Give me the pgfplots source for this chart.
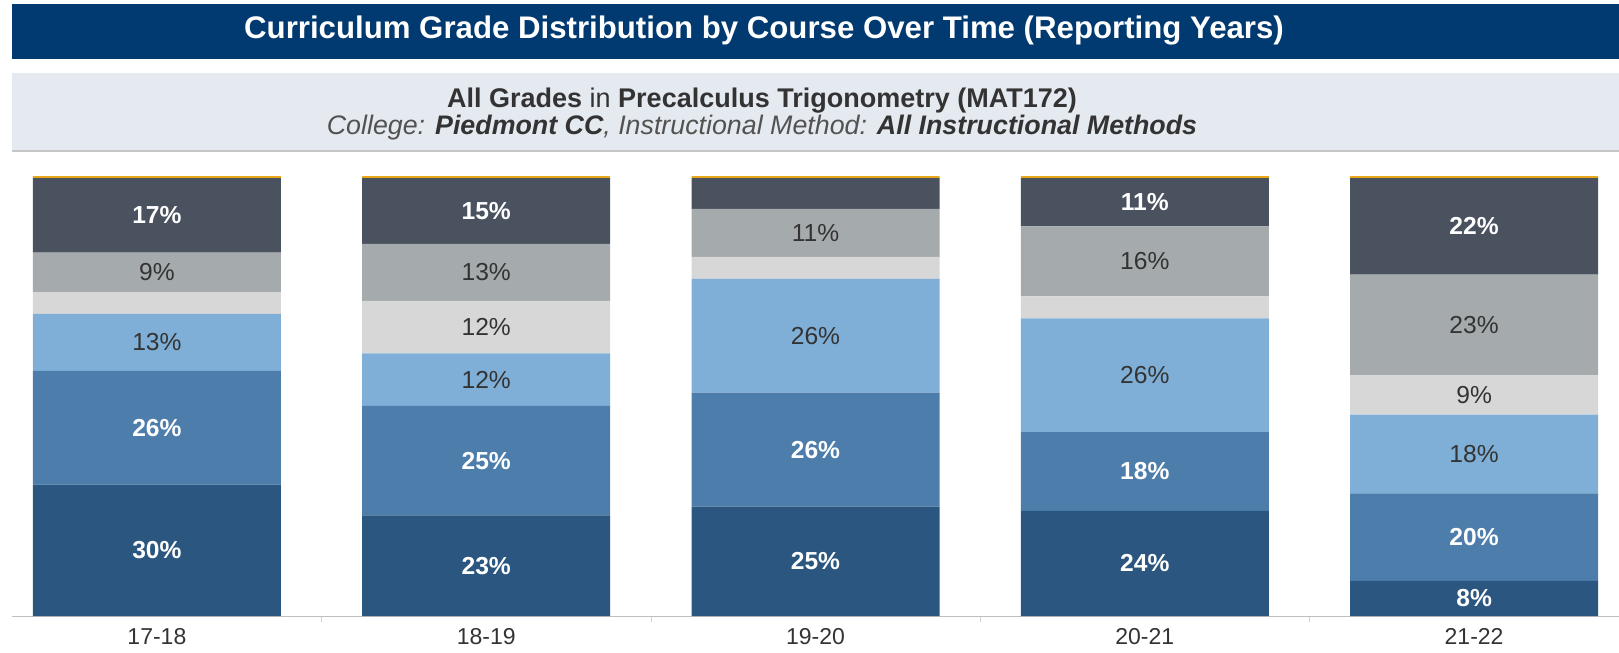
\documentclass[border=0pt]{standalone}
\usepackage{fontspec}
\setmainfont{Liberation Sans}
\usepackage{pgfplots}
\pgfplotsset{compat=1.18}
\usepackage{pgfplotstable}

\definecolor{titlebg}{RGB}{0,58,112}
\definecolor{subbg}{RGB}{229,233,240}
\definecolor{txt}{RGB}{51,51,51}
\definecolor{gA}{RGB}{42,86,128}
\definecolor{gB}{RGB}{76,125,171}
\definecolor{gC}{RGB}{127,175,214}
\definecolor{gD}{RGB}{215,215,215}
\definecolor{gE}{RGB}{165,170,173}
\definecolor{gF}{RGB}{74,82,96}
\definecolor{gW}{RGB}{230,168,25}

% share of grades per reporting year (percent), bottom to top
\pgfplotstableread{
x  A  B  C  D  E  F  W
0  30 26 13 5  9  17 0.5
1  23 25 12 12 13 15 0.5
2  25 26 26 5  11 7  0.5
3  24 18 26 5  16 11 0.5
4  8  20 18 9  23 22 0.5
}\grades

\pgfplotsset{
  seg/.style n args={2}{
    fill=#1, draw=none,
    every node near coord/.append style={text=#2},
  },
  boldlab/.style={every node near coord/.append style={font=\bfseries\fontsize{12.3}{14}\selectfont}},
}

\begin{document}
\begin{tikzpicture}
\useasboundingbox (0,0) rectangle (809.5pt,-326.5pt);
% header
\fill[titlebg] (6pt,-2pt) rectangle (809.5pt,-29.5pt);
\node[anchor=base, text=white, font=\bfseries\fontsize{15.6}{18}\selectfont]
  at (382pt,-19.5pt) {Curriculum Grade Distribution by Course Over Time (Reporting Years)};
\fill[subbg] (6pt,-36.5pt) rectangle (809.5pt,-75pt);
\draw[gray!45, line width=0.8pt] (6pt,-75.6pt) -- (809.5pt,-75.6pt);
\node[anchor=base, text=txt, font=\fontsize{13.5}{15}\selectfont]
  at (381pt,-53.5pt) {\textbf{All Grades} in \textbf{Precalculus Trigonometry (MAT172)}};
\node[anchor=base, text=txt!85, font=\itshape\fontsize{13.4}{15}\selectfont]
  at (381pt,-67pt) {College: \textbf{\color{txt}Piedmont CC}, Instructional Method: \textbf{\color{txt}All Instructional Methods}};

\begin{axis}[
    at={(6pt,-308pt)}, anchor=south west,
    scale only axis,
    width=803.5pt, height=220pt,
    ybar stacked, bar width=124pt,
    xmin=-0.44, xmax=4.44, ymin=0, ymax=100.5,
    enlarge x limits=false, enlarge y limits=false,
    axis x line*=bottom, axis y line=none,
    x axis line style={-, draw=gray!50},
    xtick={0,...,4},
    xticklabels={17-18,18-19,19-20,20-21,21-22},
    major x tick style={draw=none},
    minor xtick={0.5,1.5,2.5,3.5},
    minor x tick style={draw=gray!35},
    minor tick length=3pt, xtick align=outside,
    xticklabel style={text=txt, font=\fontsize{11.5}{13}\selectfont, yshift=1.6pt},
    ytick={20,40,60,80,100},
    ymajorgrids, grid style={gray!12, line width=0.6pt},
    point meta=explicit symbolic,
    nodes near coords={\ifdim\pgfplotspointmeta pt<7.5pt\relax\else\pgfplotspointmeta\%\fi},
    every node near coord/.append style={anchor=center,
      font=\fontsize{12.3}{14}\selectfont},
]
\addplot+[seg={gA}{white}, boldlab] table[x=x,y=A,meta=A]{\grades};
\addplot+[seg={gB}{white}, boldlab] table[x=x,y=B,meta=B]{\grades};
\addplot+[seg={gC}{txt}] table[x=x,y=C,meta=C]{\grades};
\addplot+[seg={gD}{txt}] table[x=x,y=D,meta=D]{\grades};
\addplot+[seg={gE}{txt}] table[x=x,y=E,meta=E]{\grades};
\addplot+[seg={gF}{white}, boldlab] table[x=x,y=F,meta=F]{\grades};
\addplot+[seg={gW}{white}] table[x=x,y=W,meta=W]{\grades};
\end{axis}
\end{tikzpicture}
\end{document}
